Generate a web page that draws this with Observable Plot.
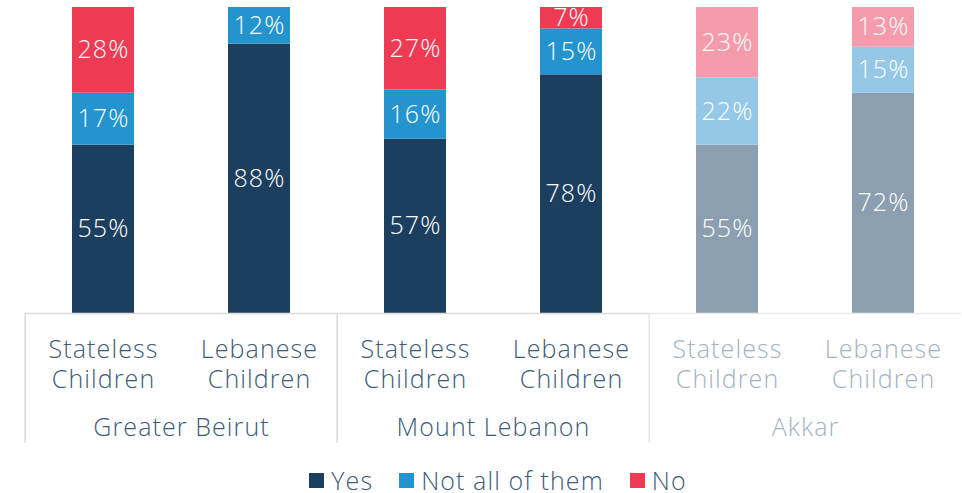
<!DOCTYPE html>
<html>
<head>
<meta charset="utf-8">
<script src="https://cdn.jsdelivr.net/npm/d3@7"></script>
<script src="https://cdn.jsdelivr.net/npm/@observablehq/plot@0.6"></script>
<style>
  body { margin: 0; background: white; font-family: "Open Sans", sans-serif; font-weight: 300; overflow: hidden; }
  #chart svg { display: block; }
  #legend { display: flex; justify-content: center; align-items: center; height: 24px; line-height: 24px; padding-top: 13px; padding-left: 34px; font-size: 25px; letter-spacing: 1.1px; color: #3e5a78; }
  .sw { display: inline-flex; align-items: center; margin-right: 26px; }
  .sw i { display: inline-block; width: 15px; height: 15px; margin-right: 7px; }
  .sw:last-child { margin-right: 0; }
</style>
</head>
<body>
<div id="chart"></div>
<div id="legend"></div>
<script>
const regions = ["Greater Beirut", "Mount Lebanon", "Akkar"];
const children = ["Stateless Children", "Lebanese Children"];
const answers = ["Yes", "Not all of them", "No"];
// order: GB-Stateless, GB-Lebanese, ML-Stateless, ML-Lebanese, Akkar-Stateless, Akkar-Lebanese
const yesValues = [55, 88, 57, 78, 55, 72];
const notAllValues = [17, 12, 16, 15, 22, 15];
const noValues = [28, 0, 27, 7, 23, 13];

const colorsMain = ["#1c3f5f", "#2494cf", "#ef3a54"];
const colorsFaded = ["#8c9fb0", "#94c8e6", "#f59bab"];
const textDark = "#3e5a78";
const textLight = "#a3b2c1";
const font = "'Open Sans', sans-serif";

const series = [yesValues, notAllValues, noValues];
const rows = [];
regions.forEach((r, ri) => children.forEach((c, ci) => {
  series.forEach((arr, ai) => rows.push({region: r, child: c, answer: answers[ai], value: arr[ri * 2 + ci]}));
}));
const fillOf = d => (d.region === "Akkar" ? colorsFaded : colorsMain)[answers.indexOf(d.answer)];
const catRows = regions.flatMap(r => children.map(c => ({region: r, child: c})));
const frameRows = regions.map(r => ({region: r}));
const W = 962, ML = 24;
const facetW = (W - ML) / regions.length;

const chart = Plot.plot({
  width: W, height: 455,
  marginLeft: ML, marginRight: 0, marginTop: 7, marginBottom: 12,
  fx: {domain: regions, padding: 0, axis: null},
  x: {domain: children, paddingInner: 0.6, paddingOuter: 0.3, axis: null},
  y: {domain: [-42.5, 100], axis: null},
  color: {type: "identity"},
  style: {fontFamily: font, fontWeight: 300, background: "white", overflow: "visible", letterSpacing: "1.1px"},
  marks: [
    Plot.barY(rows, Plot.stackY({fx: "region", x: "child", y: "value", z: "answer", order: answers, fill: fillOf})),
    Plot.text(rows.filter(d => d.value > 0), Plot.stackY({
      fx: "region", x: "child", y: "value", z: "answer", order: answers,
      text: d => d.value + "%", fill: "white", fontSize: 25, fontWeight: 300
    })),
    Plot.ruleY(frameRows, {fx: "region", y: () => 0, stroke: d => d.region === "Akkar" ? "#ebebeb" : "#d9d9d9", strokeWidth: 1.5}),
    Plot.ruleX(frameRows, {fx: "region", x: null, y1: () => 0, y2: () => -42.5, dx: -facetW / 2,
      stroke: d => d.region === "Akkar" ? "#e6e6e6" : "#d9d9d9", strokeWidth: 1.5}),
    Plot.text(catRows, {fx: "region", x: "child", y: () => 0, text: d => d.child.replace(" ", "\n"),
      dy: 50, lineAnchor: "middle", lineHeight: 1.2, fontSize: 25, fontWeight: 300,
      fill: d => d.region === "Akkar" ? textLight : textDark}),
    Plot.text(frameRows, {fx: "region", y: () => 0, text: "region", dy: 115, fontSize: 25, fontWeight: 300,
      fill: d => d.region === "Akkar" ? textLight : textDark})
  ]
});
document.getElementById("chart").appendChild(chart);

const legend = document.getElementById("legend");
answers.forEach((a, i) => {
  const s = document.createElement("span");
  s.className = "sw";
  const sq = document.createElement("i");
  sq.style.background = colorsMain[i];
  s.appendChild(sq);
  s.appendChild(document.createTextNode(a));
  legend.appendChild(s);
});
</script>
</body>
</html>
